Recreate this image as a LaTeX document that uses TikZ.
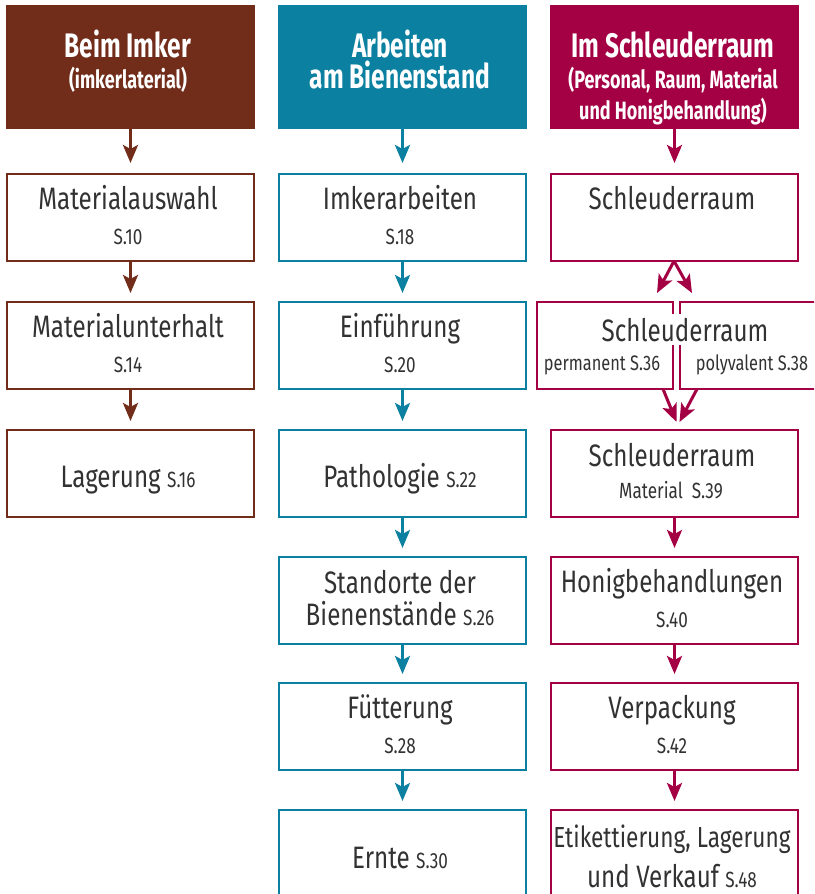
\documentclass[tikz,border=0pt]{standalone}
\usepackage{fontspec}
\setmainfont{Fira Sans}[FakeStretch=0.78]
\newfontfamily\headfont{Fira Sans}[FakeStretch=0.72]
\usetikzlibrary{arrows.meta}
\definecolor{cbrown}{RGB}{113,44,26}
\definecolor{cteal}{RGB}{12,128,160}
\definecolor{cmag}{RGB}{164,0,68}
\definecolor{ctext}{RGB}{50,50,50}
\newcommand{\pg}[1]{{\fontsize{22}{24}\selectfont #1}}
\begin{document}
\begin{tikzpicture}[x=1pt,y=-1pt,
 box/.style={draw=#1, line width=2.5pt, minimum width=247pt, minimum height=87pt, inner sep=0pt, outer sep=0pt},
 head/.style={fill=#1, minimum width=249pt, minimum height=124pt, inner sep=0pt, outer sep=0pt},
 arr/.style={draw=#1, line width=3pt, -{Stealth[length=18pt,width=15pt,inset=4pt]}},
 main/.style={anchor=base, text=ctext, font=\fontsize{31}{32}\selectfont, inner sep=0pt},
 sub/.style={anchor=base, text=ctext, font=\fontsize{22}{24}\selectfont, inner sep=0pt},
 htitle/.style={anchor=base, text=white, font=\headfont\bfseries\fontsize{34}{36}\selectfont, inner sep=0pt},
 hsub/.style={anchor=base, text=white, font=\headfont\bfseries\fontsize{25}{27}\selectfont, inner sep=0pt},
]
\useasboundingbox (0,0) rectangle (814,894);
\clip (0,0) rectangle (814,894);

% headers
\node[head=cbrown] (H1) at (130.5,67) {};
\node[head=cteal] (H2) at (402.5,67) {};
\node[head=cmag] (H3) at (674.5,67) {};
\node[htitle] (h1a) at (128,57) {Beim Imker};
\node[hsub] (h1b) at (128,88) {(imkerlaterial)};
\node[htitle] (h2a) at (400,57) {Arbeiten};
\node[htitle] (h2b) at (400,88) {am Bienenstand};
\node[htitle] (h3a) at (673,57) {Im Schleuderraum};
\node[hsub] (h3b) at (673,88) {(Personal, Raum, Material};
\node[hsub] (h3c) at (673,119) {und Honigbehandlung)};

% left column
\node[box=cbrown] (L1) at (130.5,217.5) {};
\node[box=cbrown] (L2) at (130.5,345.5) {};
\node[box=cbrown] (L3) at (130.5,473.5) {};
\node[main] (l1a) at (128,209) {Materialauswahl};
\node[sub] (l1b) at (128,244) {S.10};
\node[main] (l2a) at (128,337) {Materialunterhalt};
\node[sub] (l2b) at (128,372) {S.14};
\node[main] (l3a) at (128,487) {Lagerung \pg{S.16}};

% middle column
\node[box=cteal] (M1) at (402.5,217.5) {};
\node[box=cteal] (M2) at (402.5,345.5) {};
\node[box=cteal] (M3) at (402.5,473.5) {};
\node[box=cteal] (M4) at (402.5,600.5) {};
\node[box=cteal] (M5) at (402.5,726.5) {};
\node[box=cteal, minimum height=120pt] (M6) at (402.5,870) {};
\node[main] (m1a) at (400,209) {Imkerarbeiten};
\node[sub] (m1b) at (400,244) {S.18};
\node[main] (m2a) at (400,337) {Einführung};
\node[sub] (m2b) at (400,372) {S.20};
\node[main] (m3a) at (400,487) {Pathologie \pg{S.22}};
\node[main] (m4a) at (400,593) {Standorte der};
\node[main] (m4b) at (400,625) {Bienenstände \pg{S.26}};
\node[main] (m5a) at (400,718) {Fütterung};
\node[sub] (m5b) at (400,753) {S.28};
\node[main] (m6a) at (400,868) {Ernte \pg{S.30}};

% right column
\node[box=cmag] (R1) at (674.5,217.5) {};
\node[box=cmag, minimum width=136pt] (R2a) at (605,345.5) {};
\node[box=cmag, minimum width=150pt] (R2b) at (755,345.5) {};
\node[box=cmag] (R3) at (674.5,473.5) {};
\node[box=cmag] (R4) at (674.5,600.5) {};
\node[box=cmag] (R5) at (674.5,726.5) {};
\node[box=cmag, minimum height=120pt] (R6) at (674.5,870) {};
\node[main] (r1a) at (672,209) {Schleuderraum};
\node[main, fill=white, inner ysep=4pt] (r2a) at (685,341) {Schleuderraum};
\node[sub, font=\fontsize{21}{23}\selectfont] (r2b) at (602,370) {permanent S.36};
\node[sub, font=\fontsize{21}{23}\selectfont] (r2c) at (752,370) {polyvalent S.38};
\node[main] (r3a) at (672,466) {Schleuderraum};
\node[sub] (r3b) at (671,498) {Material\ \ S.39};
\node[main] (r4a) at (672,592) {Honigbehandlungen};
\node[sub] (r4b) at (672,627) {S.40};
\node[main] (r5a) at (672,718) {Verpackung};
\node[sub] (r5b) at (672,753) {S.42};
\node[main, font=\fontsize{29}{30}\selectfont] (r6a) at (672,847) {Etikettierung, Lagerung};
\node[main] (r6b) at (672,887) {und Verkauf \pg{S.48}};

% connectors left
\draw[arr=cbrown] (H1.south) -- ([yshift=11pt]L1.north);
\draw[arr=cbrown] (L1.south) -- ([yshift=9pt]L2.north);
\draw[arr=cbrown] (L2.south) -- ([yshift=9pt]L3.north);
% connectors middle
\draw[arr=cteal] (H2.south) -- ([yshift=11pt]M1.north);
\draw[arr=cteal] (M1.south) -- ([yshift=9pt]M2.north);
\draw[arr=cteal] (M2.south) -- ([yshift=9pt]M3.north);
\draw[arr=cteal] (M3.south) -- ([yshift=9pt]M4.north);
\draw[arr=cteal] (M4.south) -- ([yshift=9pt]M5.north);
\draw[arr=cteal] (M5.south) -- ([yshift=9pt]M6.north);
% connectors right
\draw[arr=cmag] (H3.south) -- ([yshift=11pt]R1.north);
\draw[arr=cmag] ([xshift=-0.5pt]R1.south) -- ([xshift=-16pt,yshift=9pt]R2a.north east);
\draw[arr=cmag] ([xshift=-0.5pt]R1.south) -- ([xshift=12pt,yshift=9pt]R2b.north west);
\draw[arr=cmag] ([xshift=-10pt]R2a.south east) -- ([xshift=2pt,yshift=8pt]R3.north);
\draw[arr=cmag] ([xshift=17pt]R2b.south west) -- ([xshift=5pt,yshift=8pt]R3.north);
\draw[arr=cmag] (R3.south) -- ([yshift=9pt]R4.north);
\draw[arr=cmag] (R4.south) -- ([yshift=9pt]R5.north);
\draw[arr=cmag] (R5.south) -- ([yshift=9pt]R6.north);
\end{tikzpicture}
\end{document}
